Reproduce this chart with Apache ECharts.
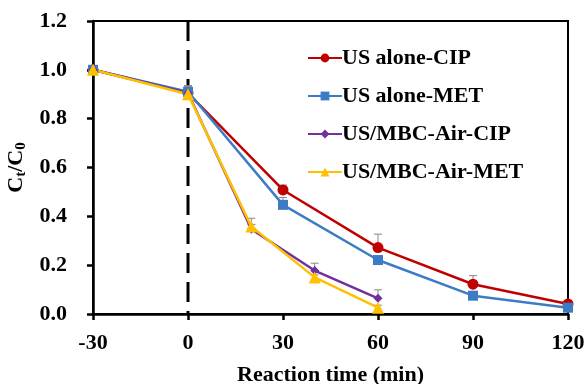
<!DOCTYPE html>
<html><head><meta charset="utf-8">
<script src="https://cdn.jsdelivr.net/npm/echarts@6/dist/echarts.min.js"></script>
<style>html,body{margin:0;padding:0;background:#fff}#c{width:587px;height:384px}</style>
</head><body><div id="c"></div>
<script>
var timeCIP = [-30, 0, 30, 60, 90, 120];
var usAloneCIP = [1.0, 0.905, 0.508, 0.272, 0.122, 0.041];
var usAloneCIPErr = [0.01, 0.03, 0.02, 0.055, 0.035, 0.01];
var usAloneMET = [1.0, 0.91, 0.447, 0.221, 0.075, 0.026];
var usAloneMETErr = [0.01, 0.025, 0.03, 0.01, 0.01, 0.01];
var timeMBC = [-30, 0, 20, 40, 60];
var mbcCIP = [1.0, 0.905, 0.347, 0.178, 0.064];
var mbcCIPErr = [0.01, 0.03, 0.02, 0.03, 0.035];
var mbcMET = [1.0, 0.9, 0.358, 0.15, 0.026];
var mbcMETErr = [0.015, 0.03, 0.034, 0.01, 0.01];
var xTicks = [-30, 0, 30, 60, 90, 120];
var yTicks = [0, 0.2, 0.4, 0.6, 0.8, 1.0, 1.2];
var dividerX = [0];

var names = ['US alone-CIP', 'US alone-MET', 'US/MBC-Air-CIP', 'US/MBC-Air-MET'];
var colors = ['#C00000', '#3D7CC4', '#7030A0', '#FFC000'];
var symbols = ['circle', 'rect', 'diamond', 'triangle'];
var sizes = [11, 10, 9, 12];
var xs = [timeCIP, timeCIP, timeMBC, timeMBC];
var ys = [usAloneCIP, usAloneMET, mbcCIP, mbcMET];
var errs = [usAloneCIPErr, usAloneMETErr, mbcCIPErr, mbcMETErr];

var font = '"Liberation Serif","Times New Roman",serif';
var series = [];
series.push({
  type: 'custom', silent: true, z: 0,
  data: dividerX.map(function (x) { return [x]; }),
  renderItem: function (params, api) {
    var top = api.coord([api.value(0), 1.2]);
    var bot = api.coord([api.value(0), 0]);
    return {type: 'line', shape: {x1: top[0], y1: top[1], x2: bot[0], y2: bot[1]},
      style: {stroke: '#000', lineWidth: 3, lineDash: [20, 9]}};
  }
});
for (var i = 0; i < 4; i++) {
  var errData = xs[i].map(function (x, j) { return [x, ys[i][j], ys[i][j] + errs[i][j]]; });
  series.push({
    type: 'custom', silent: true, z: 1,
    data: errData,
    renderItem: function (params, api) {
      var p0 = api.coord([api.value(0), api.value(1)]);
      var p1 = api.coord([api.value(0), api.value(2)]);
      var st = {stroke: '#888', lineWidth: 1};
      return {type: 'group', children: [
        {type: 'line', shape: {x1: p0[0], y1: p0[1], x2: p1[0], y2: p1[1]}, style: st},
        {type: 'line', shape: {x1: p1[0] - 4, y1: p1[1], x2: p1[0] + 4, y2: p1[1]}, style: st}
      ]};
    }
  });
}
for (var i = 0; i < 4; i++) {
  series.push({
    name: names[i], type: 'line', z: 3,
    data: xs[i].map(function (x, j) { return [x, ys[i][j]]; }),
    symbol: symbols[i], symbolSize: sizes[i], showSymbol: true,
    itemStyle: {color: colors[i]},
    lineStyle: {color: colors[i], width: 2.5}
  });
}

var chart = echarts.init(document.getElementById('c'));
chart.setOption({
  animation: false,
  grid: {left: 93, right: 19, top: 21, bottom: 70, show: true, borderColor: '#000', borderWidth: 2,
    containLabel: false, outerBoundsMode: 'none'},
  legend: {
    data: names, orient: 'vertical', left: 302, top: 42, itemGap: 16,
    itemWidth: 34, itemHeight: 11,
    textStyle: {fontFamily: font, fontWeight: 'bold', fontSize: 22, color: '#000', padding: [0, 0, 0, -5]}
  },
  xAxis: {
    type: 'value', min: -30, max: 120, interval: 30,
    name: 'Reaction time (min)', nameLocation: 'middle', nameGap: 50,
    nameTextStyle: {fontFamily: font, fontWeight: 'bold', fontSize: 22, color: '#000'},
    axisLine: {onZero: false, lineStyle: {color: '#000', width: 2.5}},
    axisTick: {show: true, inside: false, length: 6, lineStyle: {color: '#000', width: 2.5}},
    axisLabel: {fontFamily: font, fontWeight: 'bold', fontSize: 22, color: '#000', margin: 18,
      customValues: xTicks},
    splitLine: {show: false}
  },
  yAxis: {
    type: 'value', min: 0, max: 1.2, interval: 0.2,
    name: '{b|C}{s|t}{b|/C}{s|0}', nameLocation: 'middle', nameGap: 58, nameRotate: 90,
    nameTextStyle: {rich: {
      b: {fontFamily: font, fontWeight: 'bold', fontSize: 22, color: '#000'},
      s: {fontFamily: font, fontWeight: 'bold', fontSize: 15, color: '#000', verticalAlign: 'bottom', padding: [9, 0, 0, 0]}
    }},
    axisLine: {show: true, onZero: false, lineStyle: {color: '#000', width: 2.5}},
    axisTick: {show: true, inside: false, length: 6, lineStyle: {color: '#000', width: 2.5}},
    axisLabel: {fontFamily: font, fontWeight: 'bold', fontSize: 22, color: '#000', margin: 26,
      customValues: yTicks,
      formatter: function (v) { return v.toFixed(1); }},
    splitLine: {show: false}
  },
  series: series
});
</script>
</body></html>
